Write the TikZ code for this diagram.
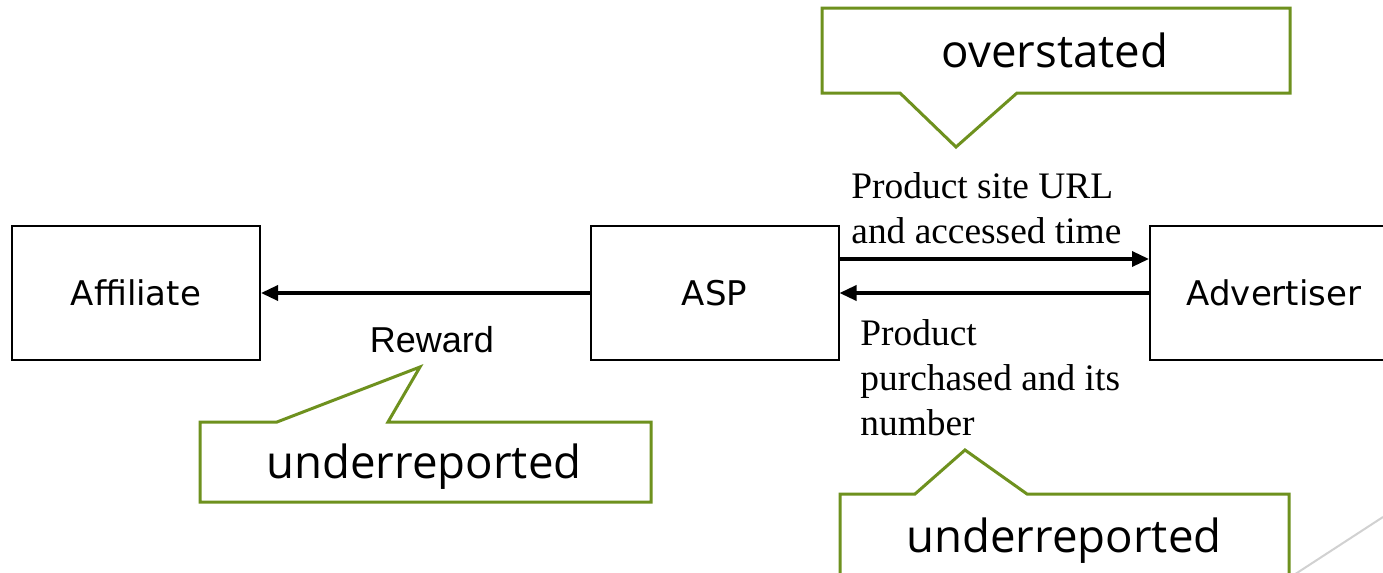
\documentclass[tikz,border=0pt]{standalone}
\usepackage{fontspec}
\setmainfont{Liberation Serif}
\newfontfamily\boxfont{DejaVu Sans}
\newfontfamily\arialfont{Liberation Sans}
\newfontfamily\callfont{Open Sans}
\usetikzlibrary{arrows.meta}
\definecolor{olivegreen}{RGB}{110,145,30}
\begin{document}
\begin{tikzpicture}[x=0.5pt,y=-0.5pt,
  box/.style={draw,line width=1pt,minimum width=124pt,minimum height=67pt,inner sep=0pt,font=\boxfont\fontsize{17}{20}\selectfont},
  flow/.style={line width=1.7pt,-{Triangle[length=8.5pt,width=7.5pt]}},
  callout/.style={draw=olivegreen,line width=1.5pt,fill=white,line join=miter},
  calltext/.style={font=\callfont\fontsize{22.8}{27}\selectfont,inner sep=0pt,anchor=base},
  lbl/.style={font=\fontsize{18.7}{22.5}\selectfont,align=left,inner sep=0pt,anchor=north west}]
\useasboundingbox (0,0) rectangle (1383,573);
\clip (0,0) rectangle (1383,573);
\fill[white] (0,0) rectangle (1383,573);

% decorative corner line (behind everything)
\draw[black!18,line width=1pt] (1383,517) -- (1280,584);

% boxes
\node[box] (aff) at (136,293) {Affiliate};
\node[box] (asp) at (714.5,293) {ASP};
\node[box] (adv) at (1274,293) {Advertiser};

% connectors
\draw[flow] (asp.west) -- (aff.east);
\draw[flow] ([yshift=17pt]asp.east) -- ([yshift=17pt]adv.west);
\draw[flow] (adv.west) -- (asp.east);

% labels
\node[font=\arialfont\fontsize{18}{21}\selectfont,inner sep=0pt,anchor=base] (reward) at (432,352) {Reward};
\node[lbl] (urllbl) at (851,172) {Product site URL\\and accessed time};
\node[lbl] (purlbl) at (860,319) {Product\\purchased and its\\number};

% callouts
\draw[callout] (822,8) -- (1290,8) -- (1290,93) -- (1017,93) -- (956,147) -- (900,93) -- (822,93) -- cycle;
\node[calltext] (over) at (1055,68) {overstated};

\draw[callout] (200,422) -- (277,422) -- (420,367) -- (388,422) -- (651,422) -- (651,502) -- (200,502) -- cycle;
\node[calltext] (underl) at (424,478) {underreported};

\draw[callout] (840,494) -- (915,494) -- (965,450) -- (1027,494) -- (1289,494) -- (1289,620) -- (840,620) -- cycle;
\node[calltext] (underr) at (1064,552) {underreported};
\end{tikzpicture}
\end{document}
